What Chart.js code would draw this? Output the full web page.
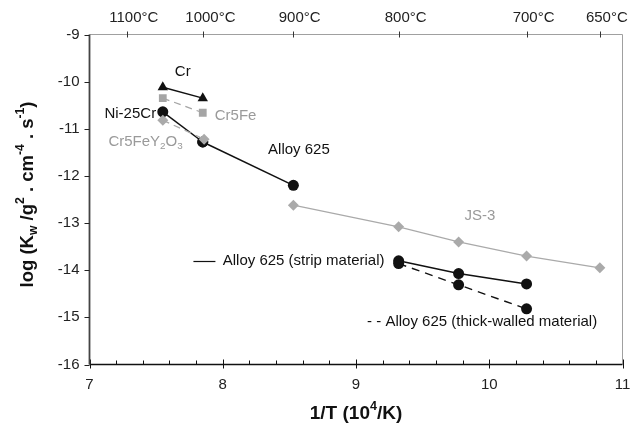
<!DOCTYPE html>
<html><head><meta charset="utf-8">
<script src="https://cdn.jsdelivr.net/npm/chart.js@4/dist/chart.umd.min.js"></script>
<style>html,body{margin:0;padding:0;background:#fff}canvas{display:block}</style>
</head><body>
<canvas id="c" width="644" height="428"></canvas>
<script>
// ---- data ----
const crX = [7.55, 7.85];           const crY = [-10.12, -10.35];
const cr5feX = [7.55, 7.85];        const cr5feY = [-10.35, -10.66];
const ni25crX = [7.55, 7.85];       const ni25crY = [-10.64, -11.28];
const alloy625X = [7.85, 8.53];     const alloy625Y = [-11.28, -12.2];
const cr5feY2O3X = [7.55, 7.86];    const cr5feY2O3Y = [-10.82, -11.22];
const js3X = [8.53, 9.32, 9.77, 10.28, 10.83];
const js3Y = [-12.62, -13.08, -13.40, -13.70, -13.95];
const stripX = [9.32, 9.77, 10.28]; const stripY = [-13.80, -14.07, -14.29];
const thickX = [9.32, 9.77, 10.28]; const thickY = [-13.86, -14.31, -14.82];
const topTickPos = [7.28, 7.855, 8.525, 9.32, 10.28, 10.83];
const topTickLabels = ['1100°C', '1000°C', '900°C', '800°C', '700°C', '650°C'];

const FONT = "'Liberation Sans', Arial, sans-serif";
const BLACK = '#111111', GRAY = '#9a9a9a';
const pts = (xs, ys) => xs.map((x, i) => ({x, y: ys[i]}));

function ds(xs, ys, color, style, dash, lw) {
  return {data: pts(xs, ys), showLine: true, borderColor: color, backgroundColor: color,
    borderWidth: lw, borderDash: dash, pointStyle: style,
    pointRadius: style === 'circle' ? 5.5 : style === 'triangle' ? 6 : 5.5,
    pointBorderWidth: 0, pointBorderColor: color};
}

function drawRich(ctx, parts, x, y, align, size, bold, color) {
  const w = bold ? 'bold ' : '';
  let total = 0;
  const sizes = parts.map(p => p[1] ? size * 0.66 : size);
  parts.forEach((p, i) => { ctx.font = w + sizes[i] + 'px ' + FONT; total += ctx.measureText(p[0]).width; });
  let cx = align === 'center' ? x - total / 2 : align === 'right' ? x - total : x;
  ctx.fillStyle = color; ctx.textBaseline = 'middle'; ctx.textAlign = 'left';
  parts.forEach((p, i) => {
    ctx.font = w + sizes[i] + 'px ' + FONT;
    const dy = p[1] === 1 ? size * 0.32 : p[1] === 2 ? -size * 0.38 : 0;
    ctx.fillText(p[0], cx, y + dy);
    cx += ctx.measureText(p[0]).width;
  });
}

const annotations = [
  {x: 7.70, y: -9.80, align: 'center', color: BLACK, parts: [['Cr', 0]]},
  {x: 7.94, y: -10.73, align: 'left', color: GRAY, parts: [['Cr5Fe', 0]]},
  {x: 7.50, y: -10.69, align: 'right', color: BLACK, parts: [['Ni-25Cr', 0]]},
  {x: 7.70, y: -11.27, align: 'right', color: GRAY, parts: [['Cr5FeY', 0], ['2', 1], ['O', 0], ['3', 1]]},
  {x: 8.34, y: -11.44, align: 'left', color: BLACK, parts: [['Alloy 625', 0]]},
  {x: 9.93, y: -12.85, align: 'center', color: GRAY, parts: [['JS-3', 0]]},
  {x: 8.00, y: -13.80, align: 'left', color: BLACK, parts: [['Alloy 625 (strip material)', 0]]},
  {x: 10.81, y: -15.10, align: 'right', color: BLACK, parts: [['- - Alloy 625 (thick-walled material)', 0]]}
];

const decor = {
  id: 'decor',
  beforeDatasetsDraw(chart) {
    const ctx = chart.ctx, a = chart.chartArea, sx = chart.scales.x, sy = chart.scales.y;
    ctx.save();
    ctx.strokeStyle = '#a0a0a0'; ctx.lineWidth = 1;
    ctx.beginPath(); ctx.moveTo(a.left, a.top); ctx.lineTo(a.right, a.top); ctx.lineTo(a.right, a.bottom); ctx.stroke();
    ctx.strokeStyle = '#333'; ctx.lineWidth = 1;
    topTickPos.forEach(v => { const px = Math.round(sx.getPixelForValue(v)) + 0.5;
      ctx.beginPath(); ctx.moveTo(px, a.top - 3); ctx.lineTo(px, a.top + 3); ctx.stroke(); });
    ctx.strokeStyle = '#111'; ctx.lineWidth = 1.3;
    ctx.beginPath(); ctx.moveTo(a.left, a.bottom); ctx.lineTo(a.right, a.bottom); ctx.stroke();
    ctx.lineWidth = 1;
    for (let i = 0; i <= 20; i++) {
      const v = 7 + i * 0.2; const px = Math.round(sx.getPixelForValue(v)) + 0.5;
      const major = i % 5 === 0;
      ctx.beginPath(); ctx.moveTo(px, a.bottom - (major ? 5 : 4)); ctx.lineTo(px, a.bottom + (major ? 4 : 0)); ctx.stroke();
    }
    ctx.strokeStyle = '#444'; ctx.lineWidth = 1.8;
    ctx.beginPath(); ctx.moveTo(a.left, a.top); ctx.lineTo(a.left, a.bottom); ctx.stroke();
    ctx.lineWidth = 1; ctx.strokeStyle = '#222';
    for (let v = -16; v <= -9; v++) { const py = Math.round(sy.getPixelForValue(v)) + 0.5;
      ctx.beginPath(); ctx.moveTo(a.left - 5, py); ctx.lineTo(a.left, py); ctx.stroke(); }
    ctx.restore();
  },
  afterDraw(chart) {
    const ctx = chart.ctx, a = chart.chartArea, sx = chart.scales.x, sy = chart.scales.y;
    ctx.save();
    annotations.forEach(an => drawRich(ctx, an.parts, sx.getPixelForValue(an.x), sy.getPixelForValue(an.y), an.align, 15, false, an.color));
    const ly = Math.round(sy.getPixelForValue(-13.80)) + 0.5;
    ctx.strokeStyle = BLACK; ctx.lineWidth = 1.2;
    ctx.beginPath(); ctx.moveTo(sx.getPixelForValue(7.78), ly); ctx.lineTo(sx.getPixelForValue(7.945), ly); ctx.stroke();
    drawRich(ctx, [['1/T (10', 0], ['4', 2], ['/K)', 0]], (a.left + a.right) / 2, 414, 'center', 19, true, BLACK);
    ctx.translate(28, (a.top + a.bottom) / 2 - 5);
    ctx.rotate(-Math.PI / 2);
    drawRich(ctx, [['log (K', 0], ['w', 1], [' /g', 0], ['2', 2], [' . cm', 0], ['-4', 2], [' . s', 0], ['-1', 2], [')', 0]], 0, 0, 'center', 18.5, true, BLACK);
    ctx.restore();
  }
};

new Chart(document.getElementById('c'), {
  type: 'scatter',
  data: {datasets: [
    ds(js3X, js3Y, '#aaaaaa', 'rectRot', [], 1.2),
    ds(cr5feY2O3X, cr5feY2O3Y, '#aaaaaa', 'rectRot', [7, 5], 1.3),
    ds(cr5feX, cr5feY, '#a5a5a5', 'rect', [7, 5], 1.3),
    ds(crX, crY, BLACK, 'triangle', [], 1.5),
    ds(ni25crX, ni25crY, BLACK, 'circle', [], 1.5),
    ds(alloy625X, alloy625Y, BLACK, 'circle', [], 1.5),
    ds(thickX, thickY, BLACK, 'circle', [8, 6], 1.4),
    ds(stripX, stripY, BLACK, 'circle', [], 1.5)
  ]},
  options: {
    responsive: false, animation: false, events: [],
    layout: {padding: {left: 0, top: 0, right: 21.5, bottom: 0}},
    plugins: {legend: {display: false}, tooltip: {enabled: false}},
    scales: {
      x: {type: 'linear', position: 'bottom', min: 7, max: 11,
        afterFit(s) { s.height = 63.5; },
        grid: {display: false, drawTicks: false}, border: {display: false},
        ticks: {stepSize: 1, padding: 11, color: '#222', font: {family: FONT, size: 15}}},
      x2: {type: 'linear', position: 'top', min: 7, max: 11,
        afterFit(s) { s.height = 34.5; },
        afterBuildTicks(s) { s.ticks = topTickPos.map(v => ({value: v})); },
        grid: {display: false, drawTicks: false}, border: {display: false},
        ticks: {autoSkip: false, maxRotation: 0, padding: 8, labelOffset: 7, color: '#222', font: {family: FONT, size: 15},
          callback: (v, i) => topTickLabels[i]}},
      y: {type: 'linear', min: -16, max: -9,
        afterFit(s) { s.width = 89.5; },
        grid: {display: false, drawTicks: false}, border: {display: false},
        ticks: {stepSize: 1, padding: 10, color: '#222', font: {family: FONT, size: 15}}}
    }
  },
  plugins: [decor]
});
</script>
</body></html>
